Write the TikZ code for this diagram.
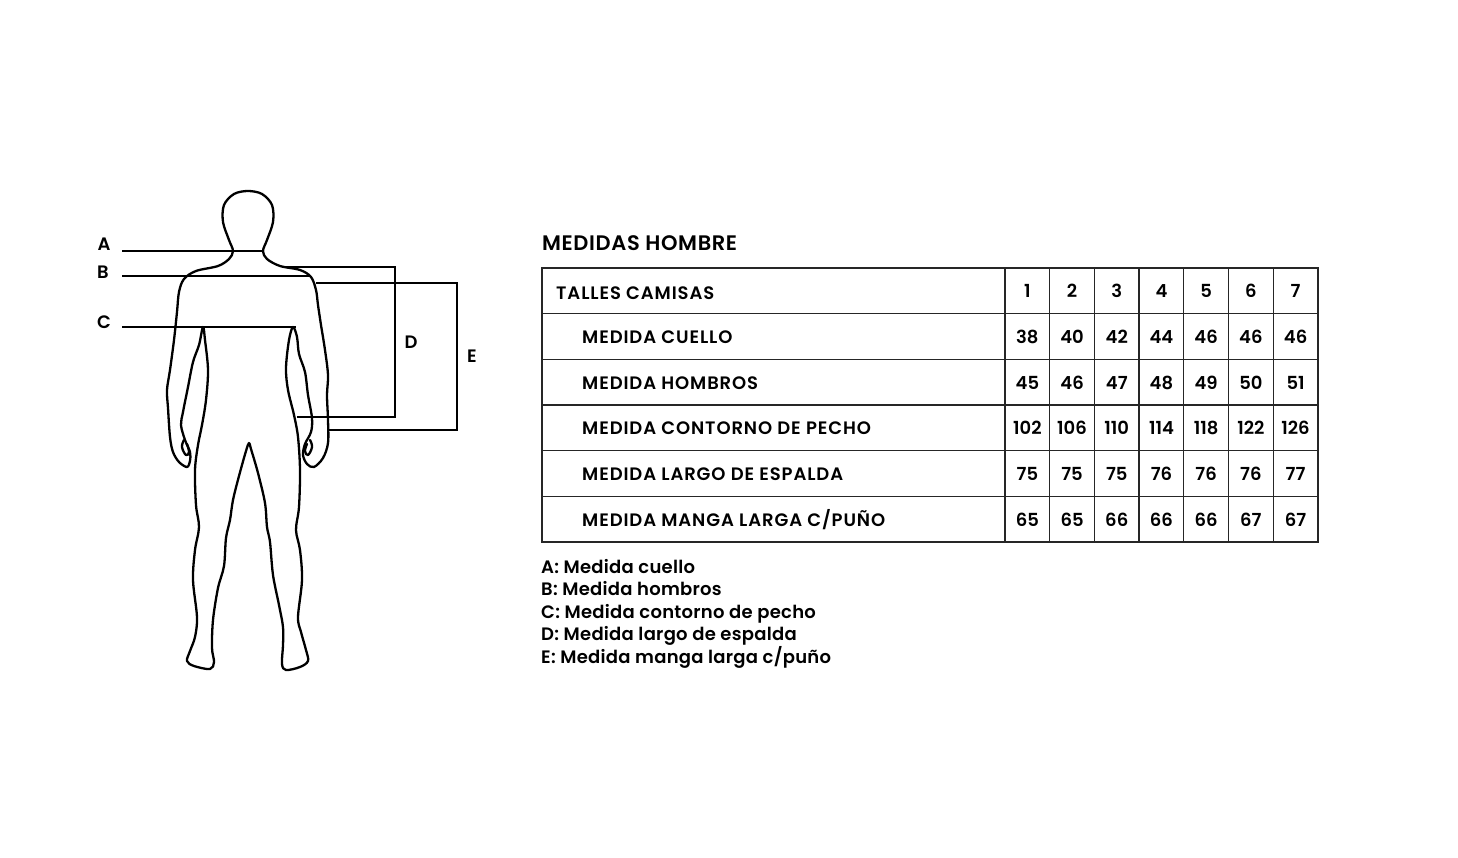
\documentclass[tikz,border=0pt]{standalone}
\usepackage{fontspec}
\setmainfont{Poppins SemiBold}
\newfontfamily\tablafont{Poppins SemiBold}[LetterSpace=5]
\newfontfamily\titulofont{Poppins SemiBold}[LetterSpace=3]
\newfontfamily\leyendafont{Poppins SemiBold}[LetterSpace=1.5]

\begin{document}
\begin{tikzpicture}[x=1pt, y=-1pt,
    body/.style={line width=2.3pt, line join=round, line cap=round},
    guide/.style={line width=2pt},
    grid/.style={line width=1.3pt, draw=black!85},
    tag/.style={font=\fontsize{18}{20}\selectfont, inner sep=0pt},
    cell/.style={font=\fontsize{18}{20}\selectfont, inner sep=0pt, anchor=base},
    rowlabel/.style={font=\tablafont\fontsize{18}{20}\selectfont, inner sep=0pt, anchor=base west},
    legend/.style={font=\leyendafont\fontsize{18}{20}\selectfont, inner sep=0pt, anchor=base west}]
  \useasboundingbox (0,0) rectangle (1458,858);

  \draw[body] plot[smooth cycle, tension=0.55] coordinates {
    (233,251) (229,240) (223,222) (224,205) (234,194) (248,191) (262,194) (272,205)
    (273,222) (267,240) (263,251) (267,259) (280,266) (300,270) (311,277) (316,290)
    (318,305) (321,325) (325,350) (328,375) (327,395) (328,420) (328,443) (323,458)
    (314,467) (307,464) (303,455) (305,444) (311,432) (312,418) (308,395) (305,372)
    (299,354) (297,337) (293,327) (289,340) (286,368) (288,390) (294,415) (298,437)
    (300,470) (299,507) (296,530) (300,550) (302,580) (298,617) (301,632) (306,650)
    (308,661) (300,667) (286,670) (282,664) (283,645) (283,627) (279,605) (273,575)
    (270,542) (267,527) (265,503) (258,473) (251,449) (249,443) (246,451) (239,476)
    (233,500) (230,520) (226,538) (224,566) (218,588) (213,620) (212,648) (214,662)
    (210,669) (194,666) (187,661) (190,651) (195,637) (197,617) (193,580) (195,550)
    (199,527) (196,505) (195,470) (198,445) (202,425) (206,400) (208,370) (205,340)
    (203,327) (199,345) (193,362) (188,387) (183,412) (181,425) (185,440) (190,452)
    (190,461) (187,467) (179,462) (173,452) (170,437) (168,408) (167,390) (170,370)
    (174,340) (177,312) (179,292) (184,279) (196,271) (218,266) (229,259)};
  \draw[body] plot[smooth, tension=0.7] coordinates {(184,440) (182,447) (186,455) (189,452) (187,444)};
  \draw[body] plot[smooth, tension=0.7] coordinates {(310,440) (312,447) (308,455) (305,451) (307,444)};

  \node[tag] (A) at (104,244.5) {A};
  \node[tag] (B) at (103,272.5) {B};
  \node[tag] (C) at (104,322) {C};
  \node[tag] (D) at (411,342.5) {D};
  \node[tag] (E) at (472,356) {E};

  \coordinate (a0) at (122,251);   \coordinate (a1) at (263,251);
  \coordinate (b0) at (122,276);   \coordinate (b1) at (311,276);
  \coordinate (c0) at (122,327);   \coordinate (c1) at (296,327);
  \coordinate (d0) at (283,267);   \coordinate (d1) at (395,267);
  \coordinate (d2) at (395,417);   \coordinate (d3) at (297,417);
  \coordinate (e0) at (316,283);   \coordinate (e1) at (457,283);
  \coordinate (e2) at (457,430);   \coordinate (e3) at (328,430);

  \draw[guide] (a0) -- (a1);
  \draw[guide] (b0) -- (b1);
  \draw[guide] (c0) -- (c1);
  \draw[guide] (d0) -- (d1) -- (d2) -- (d3);
  \draw[guide] (e0) -- (e1) -- (e2) -- (e3);

  \node[font=\titulofont\fontsize{21}{24}\selectfont, inner sep=0pt, anchor=base west] (titulo) at (542,251) {MEDIDAS HOMBRE};

  \draw[grid] (542,268) rectangle (1318,542);
  \foreach \r in {1,...,5}
    \draw[grid] (542,{268+45.67*\r}) -- (1318,{268+45.67*\r});
  \foreach \c in {0,...,6}
    \draw[grid] ({1005+44.7*\c},268) -- ({1005+44.7*\c},542);

  \node[rowlabel] (talles) at (556,300) {TALLES CAMISAS};
  \foreach \t [count=\c] in {1,...,7}
    \node[cell] (t\c) at ({982.65+44.7*\c},298) {\t};

  \foreach \lab [count=\r] in {MEDIDA CUELLO, MEDIDA HOMBROS, MEDIDA CONTORNO DE PECHO,
      MEDIDA LARGO DE ESPALDA, MEDIDA MANGA LARGA C/PUÑO}
    \node[rowlabel] (m\r) at (582,{268+45.67*(\r+0.5)+7}) {\lab};

  \foreach \vals [count=\r] in {{38,40,42,44,46,46,46}, {45,46,47,48,49,50,51},
      {102,106,110,114,118,122,126}, {75,75,75,76,76,76,77}, {65,65,66,66,66,67,67}}
    \foreach \v [count=\c] in \vals
      \node[cell] (v\r-\c) at ({982.65+44.7*\c},{268+45.67*(\r+0.5)+7}) {\v};

  \node[legend] (la) at (541,573) {A: Medida cuello};
  \node[legend] (lb) at (541,595.5) {B: Medida hombros};
  \node[legend] (lc) at (541,618) {C: Medida contorno de pecho};
  \node[legend] (ld) at (541,640.5) {D: Medida largo de espalda};
  \node[legend] (le) at (541,663) {E: Medida manga larga c/puño};
\end{tikzpicture}
\end{document}
